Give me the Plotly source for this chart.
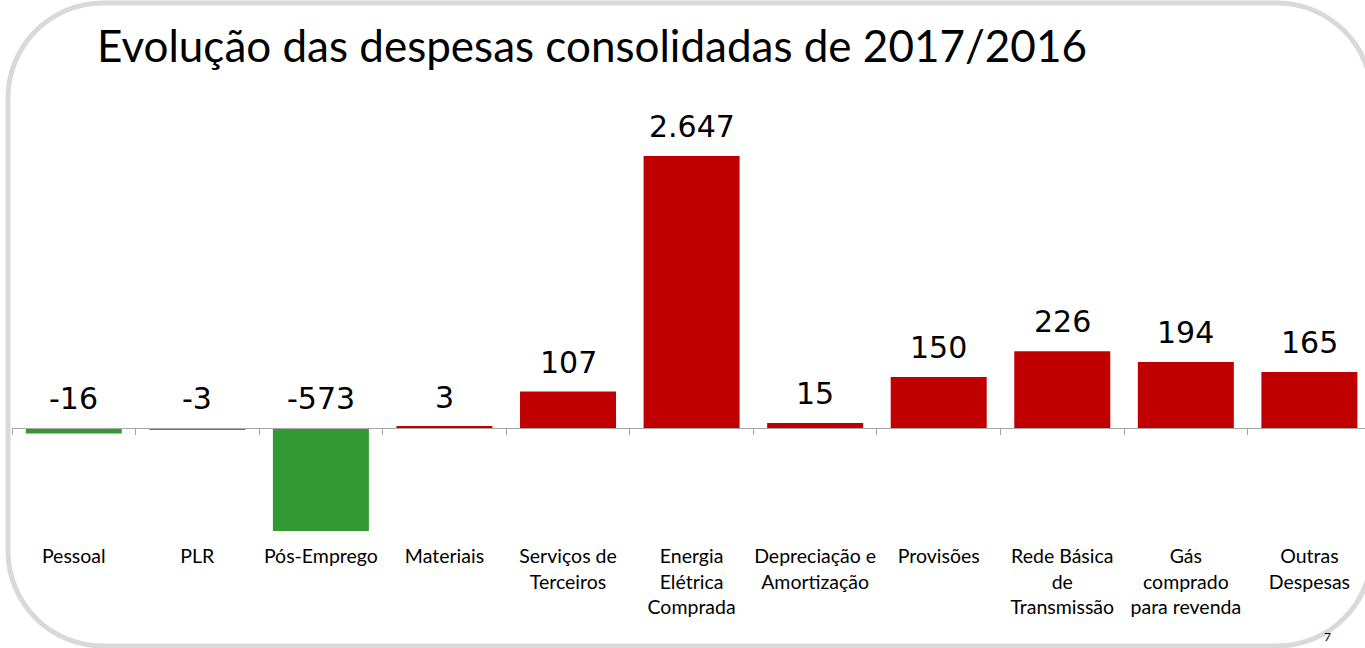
import plotly.graph_objects as go

# ---- data ----
categories = ["Pessoal", "PLR", "Pós-Emprego", "Materiais", "Serviços de<br>Terceiros",
              "Energia<br>Elétrica<br>Comprada", "Depreciação e<br>Amortização", "Provisões",
              "Rede Básica<br>de<br>Transmissão", "Gás<br>comprado<br>para revenda", "Outras<br>Despesas"]
# variation (R$ million) shown as labels
values = [-16, -3, -573, 3, 107, 2647, 15, 150, 226, 194, 165]
# bar heights as drawn in the original (axis is broken for the two largest bars)
bar_heights = [-16, -3, -303, 3, 107, 800, 15, 150, 226, 194, 165]
title_text = "Evolução das despesas consolidadas de 2017/2016"

RED = "#C00000"
GREEN = "#339933"
W, H = 1365, 648
ML, MT, MB = 12, 100, 108
PW = W - ML
PH = H - MT - MB
PX_PER_UNIT = 0.34
zero_px = 428
y_top = (zero_px - MT) / PX_PER_UNIT
y_bot = -((H - MB) - zero_px) / PX_PER_UNIT

colors = [GREEN if v < 0 else RED for v in values]
labels = [f"{v:,}".replace(",", ".") for v in values]

fig = go.Figure(go.Bar(x=categories, y=bar_heights, marker_color=colors,
                       marker_line_width=0, hoverinfo="skip"))

annotations = []
for c, h, t in zip(categories, bar_heights, labels):
    annotations.append(dict(x=c, y=max(h, 0), text=t, showarrow=False, yanchor="bottom",
                            yshift=10, font=dict(family="DejaVu Sans", size=30, color="black")))


def X(px):
    return (px - ML) / PW


def Y(py):
    return ((H - MB) - py) / PH


# rounded frame
L, T, R, B, r = 8, 3, 1372, 646, 95
k = 0.5523 * r
pts = [
    ("M", [(L + r, T)]), ("L", [(R - r, T)]),
    ("C", [(R - r + k, T), (R, T + r - k), (R, T + r)]), ("L", [(R, B - r)]),
    ("C", [(R, B - r + k), (R - r + k, B), (R - r, B)]), ("L", [(L + r, B)]),
    ("C", [(L + r - k, B), (L, B - r + k), (L, B - r)]), ("L", [(L, T + r)]),
    ("C", [(L, T + r - k), (L + r - k, T), (L + r, T)]),
]
path = " ".join(cmd + " " + " ".join(f"{X(a):.5f},{Y(b):.5f}" for a, b in p) for cmd, p in pts) + " Z"

annotations.append(dict(xref="paper", yref="paper", x=X(1333), y=Y(646), text="7", showarrow=False,
                        yanchor="bottom", font=dict(family="Lato", size=12, color="black")))

fig.update_layout(
    width=W, height=H,
    margin=dict(l=ML, r=0, t=MT, b=MB, autoexpand=False),
    paper_bgcolor="white", plot_bgcolor="white",
    showlegend=False,
    bargap=0.223,
    title=dict(text=title_text, x=97 / W, xanchor="left", xref="container",
               y=1 - 47 / H, yanchor="middle", yref="container",
               font=dict(family="Lato", size=44, color="black")),
    xaxis=dict(type="category", range=[-0.5, 10.45], anchor="free",
               position=(H - MB - zero_px) / PH,
               showline=True, linecolor="#A6A6A6", linewidth=1,
               ticks="outside", tickson="boundaries", ticklen=6, tickcolor="#A6A6A6",
               showgrid=False, zeroline=False, tickangle=0, automargin=False,
               tickfont=dict(family="Lato", size=19.5, color="black"),
               ticklabelstandoff=111, fixedrange=True),
    yaxis=dict(range=[y_bot, y_top], visible=False, fixedrange=True, automargin=False),
    annotations=annotations,
    shapes=[dict(type="path", path=path, xref="paper", yref="paper",
                 line=dict(color="#D9D9D9", width=5), layer="below")],
)

fig.write_html("out.html", config={"displayModeBar": False},
               post_script="document.body.style.margin='0';document.body.style.overflow='hidden';")
